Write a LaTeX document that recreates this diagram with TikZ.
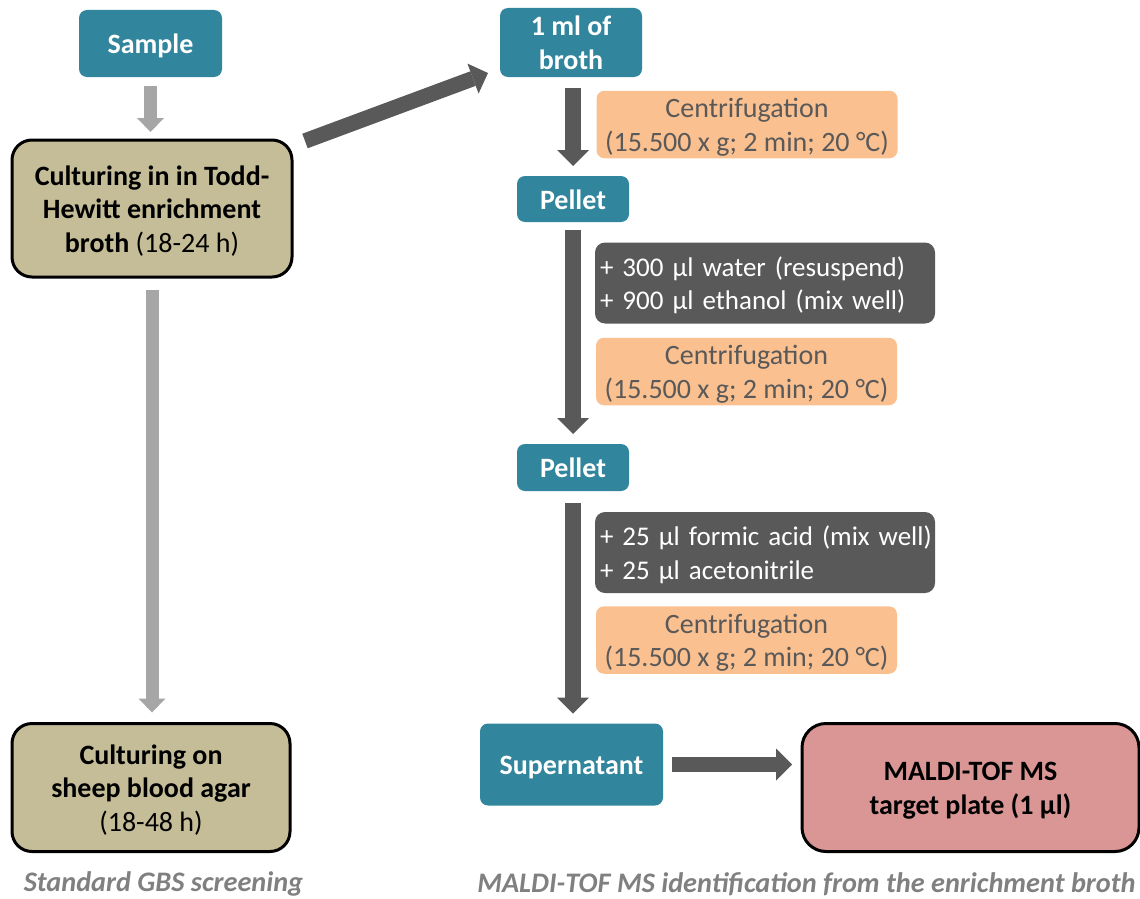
\documentclass[tikz,border=0pt]{standalone}
\usepackage{fontspec}
\setmainfont{Carlito}
\usetikzlibrary{arrows.meta,calc}
\definecolor{tealbox}{HTML}{31859C}
\definecolor{tanbox}{HTML}{C4BD97}
\definecolor{lightarrow}{HTML}{A6A6A6}
\definecolor{darkgr}{HTML}{595959}
\definecolor{orangebox}{HTML}{FAC090}
\definecolor{pinkbox}{HTML}{D99694}
\definecolor{capgray}{HTML}{808080}
\newcommand\myfs{\fontsize{28}{33.5}\selectfont}
\newcommand\tS{\rule{0pt}{27pt}}
\newcommand\bS{\rule[-7pt]{0pt}{7pt}}
\begin{document}
\begin{tikzpicture}[x=1pt,y=-1pt,
  every node/.style={inner sep=0pt, outer sep=0pt, font=\myfs},
  tealnode/.style={fill=tealbox, rounded corners=8pt, text=white, align=center, font=\myfs\bfseries},
  tannode/.style={fill=tanbox, draw=black, line width=3pt, rounded corners=20pt, align=center, font=\myfs\bfseries},
  pinknode/.style={fill=pinkbox, draw=black, line width=3pt, rounded corners=24pt, align=center, font=\myfs\bfseries},
  orangenode/.style={fill=orangebox, rounded corners=8pt, text=darkgr, align=center, minimum width=301pt, minimum height=67pt},
  darknode/.style={fill=darkgr, rounded corners=10pt, text=white, align=left, text width=330pt, inner xsep=5pt, minimum height=81pt, font=\fontsize{27}{33.5}\selectfont},
  caption/.style={text=capgray, font=\fontsize{28.3}{33}\selectfont\bfseries\itshape},
  lgarrow/.style={draw=lightarrow, line width=13pt, -{Triangle[length=14pt,width=27pt,line width=0pt]}},
  darkarrow/.style={draw=darkgr, line width=15.5pt, -{Triangle[length=16pt,width=32pt,line width=0pt]}}
]
\useasboundingbox (0,0) rectangle (1140,899);

% left column
\node[tealnode, minimum width=143pt, minimum height=67pt] (sample) at (150.5,43.5) {\tS Sample\bS};
\node[tannode, minimum width=280pt, minimum height=137pt] (cult1) at (152,208.5)
  {\tS Culturing in in Todd-\\Hewitt enrichment\\broth {\mdseries(18-24 h)}\bS};
\node[tannode, minimum width=278pt, minimum height=128pt] (cult2) at (151,787.5)
  {\tS Culturing on\\sheep blood agar\\{\mdseries(18-48 h)}\bS};
\node[caption] (cap1) at (163.5,884) {Standard GBS screening};

% right column
\node[tealnode, minimum width=142pt, minimum height=69pt] (broth) at (571,42.5) {\tS 1 ml of\\broth\bS};
\node[orangenode] (cent1) at (747,124.5) {\tS Centrifugation\\(15.500 x g; 2 min; 20 °C)\bS};
\node[tealnode, minimum width=112pt, minimum height=46pt] (pellet1) at (573,199) {\tS Pellet\bS};
\node[darknode] (dark1) at (765,283) {\tS\mbox{+ 300 μl water (resuspend)}\\\mbox{+ 900 μl ethanol (mix well)}\bS};
\node[orangenode] (cent2) at (746.5,371.5) {\tS Centrifugation\\(15.500 x g; 2 min; 20 °C)\bS};
\node[tealnode, minimum width=112pt, minimum height=47pt] (pellet2) at (573,467.5) {\tS Pellet\bS};
\node[darknode] (dark2) at (765,552.5) {\tS\mbox{+ 25 μl formic acid (mix well)}\\\mbox{+ 25 μl acetonitrile}\bS};
\node[orangenode] (cent3) at (746.5,640) {\tS Centrifugation\\(15.500 x g; 2 min; 20 °C)\bS};
\node[tealnode, minimum width=183pt, minimum height=82pt] (super) at (571.5,764.5) {\tS Supernatant\bS};
\node[pinknode, minimum width=337pt, minimum height=128pt] (maldi) at (970.5,787.5)
  {\tS MALDI-TOF MS\\target plate (1 µl)\bS};
\node[caption] (cap2) at (806.5,884) {MALDI-TOF MS identification from the enrichment broth};

% arrows
\draw[lgarrow, shorten <=9pt, shorten >=8pt] (sample.south) -- (sample.south |- cult1.north);
\draw[lgarrow, shorten <=13pt, shorten >=11pt] (cult1.south) -- (cult1.south |- cult2.north);
\draw[darkarrow] ($(cult1.north east)+(13,1)$) -- ($(broth.south west)+(-12,-4)$);
\draw[darkarrow, shorten <=11pt, shorten >=10pt] (pellet1.north |- broth.south) -- (pellet1.north);
\draw[darkarrow, shorten <=8pt, shorten >=10pt] (pellet1.south) -- (pellet2.north);
\draw[darkarrow, shorten <=12pt, shorten >=10pt] (pellet2.south) -- (pellet2.south |- super.north);
\draw[darkarrow, shorten <=9pt, shorten >=10pt] (super.east) -- (super.east -| maldi.west);
\end{tikzpicture}
\end{document}
